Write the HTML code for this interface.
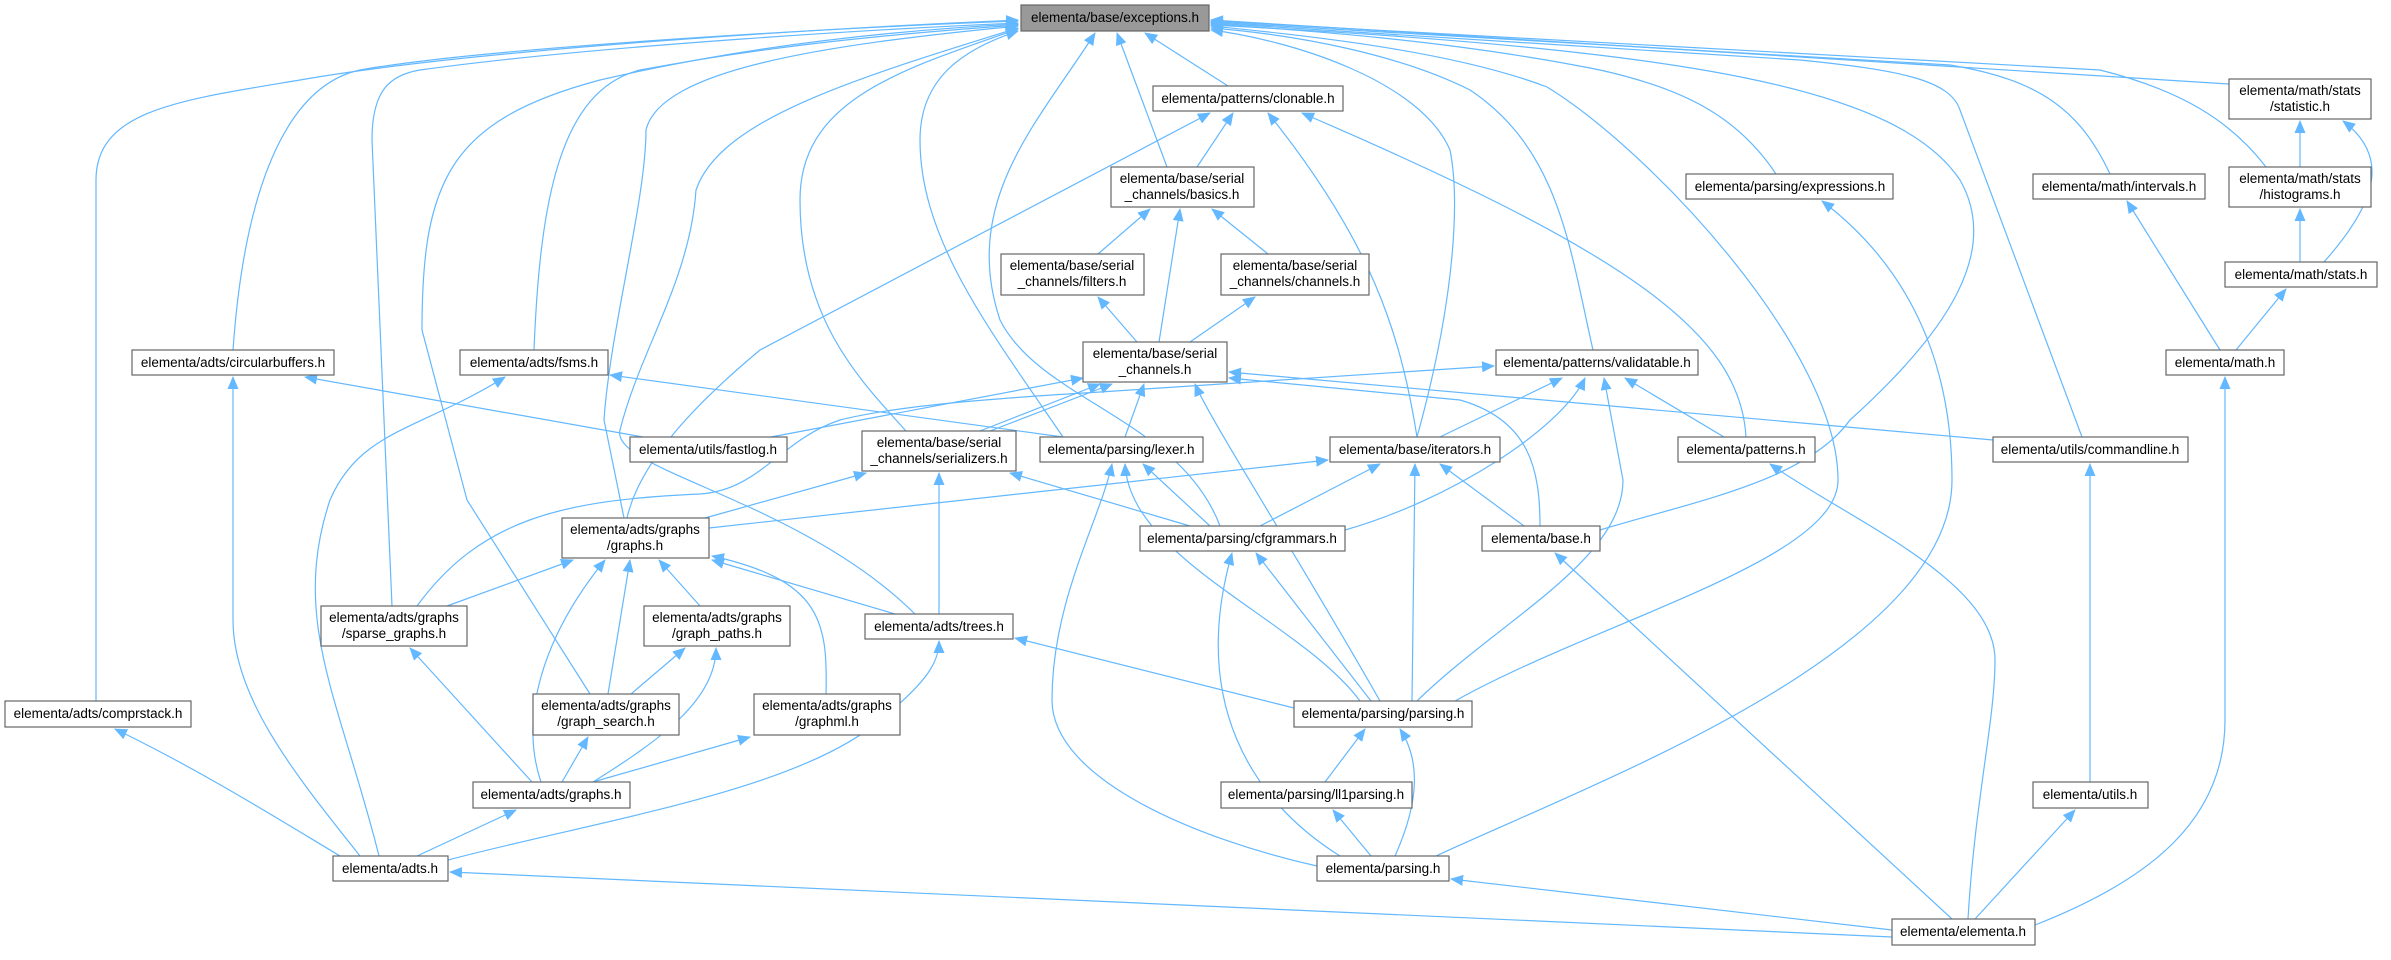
<!DOCTYPE html>
<html><head><meta charset="utf-8"><style>
html,body{margin:0;padding:0;background:#fff}
svg{display:block}
text{font-family:"Liberation Sans",Arial,sans-serif;font-size:13.5px;fill:#000}
.e{fill:none;stroke:#63b8ff;stroke-width:1.2;marker-end:url(#ah)}
.n{fill:#fff;stroke:#666;stroke-width:1.2}
</style></head><body>
<svg width="2391" height="960" viewBox="0 0 2391 960" xmlns="http://www.w3.org/2000/svg">
<defs><marker id="ah" markerUnits="userSpaceOnUse" markerWidth="13" markerHeight="11" refX="12" refY="5.5" orient="auto"><path d="M0,0 L13,5.5 L0,11 z" fill="#63b8ff"/></marker></defs>
<g>
<path class="e" d="M96,701 L96,180 C96,110 180,100 300,80 C500,45 900,25 1018,20"/>
<path class="e" d="M233,350 C245,180 290,85 360,70 C500,45 900,25 1018,21"/>
<path class="e" d="M392,606 L372,140 C372,90 390,75 420,70 C600,45 900,28 1018,23"/>
<path class="e" d="M590,694 L467,500 L422,330 C422,180 450,120 600,80 C750,45 900,30 1018,24"/>
<path class="e" d="M534,350 C540,200 560,90 640,70 C800,40 950,30 1018,25"/>
<path class="e" d="M624,518 L604,420 C610,330 646,200 646,130 C660,70 820,45 1018,26"/>
<path class="e" d="M915,614 C800,500 610,470 620,430 C640,350 690,280 696,190 C720,120 850,80 1018,28"/>
<path class="e" d="M906,431 C860,380 800,320 800,200 C800,100 900,70 1018,29"/>
<path class="e" d="M1063,437 C990,330 920,240 920,140 C920,80 960,50 1018,31"/>
<path class="e" d="M1220,526 C1180,420 1040,400 1000,320 C960,200 1040,120 1095,33"/>
<path class="e" d="M1167,167 L1117,33"/>
<path class="e" d="M1228,86 L1145,33"/>
<path class="e" d="M1417,437 C1455,300 1460,200 1450,150 C1420,80 1290,40 1211,30"/>
<path class="e" d="M1593,350 C1570,250 1560,150 1470,90 C1400,55 1300,35 1211,28"/>
<path class="e" d="M1455,701 C1600,620 1838,560 1838,480 C1838,350 1650,150 1547,87 C1450,50 1300,35 1211,26"/>
<path class="e" d="M1600,530 C1700,500 1807,480 1850,420 C1950,330 2000,250 1960,180 C1900,90 1700,50 1211,25"/>
<path class="e" d="M1776,174 C1740,120 1690,90 1600,70 C1450,40 1300,30 1211,24"/>
<path class="e" d="M2082,437 L1960,110 C1950,80 1900,70 1800,60 L1211,23"/>
<path class="e" d="M2110,174 C2080,110 2040,80 1950,65 L1211,22"/>
<path class="e" d="M2266,167 C2230,120 2180,90 2100,70 L1211,21"/>
<path class="e" d="M2229,84 L1211,20"/>
<path class="e" d="M1197,167 L1233,113"/>
<path class="e" d="M1417,437 C1400,330 1370,240 1268,113"/>
<path class="e" d="M1746,437 C1740,330 1620,250 1302,113"/>
<path class="e" d="M627,518 C640,460 700,400 760,350 L1210,113"/>
<path class="e" d="M1098,254 L1150,209"/>
<path class="e" d="M1159,342 L1180,209"/>
<path class="e" d="M1268,254 L1212,209"/>
<path class="e" d="M1137,342 L1098,297"/>
<path class="e" d="M1190,342 L1255,297"/>
<path class="e" d="M771,437 L1083,378"/>
<path class="e" d="M980,431 L1100,384"/>
<path class="e" d="M990,431 L1112,384"/>
<path class="e" d="M1125,437 L1144,384"/>
<path class="e" d="M1380,701 C1300,560 1210,420 1195,384"/>
<path class="e" d="M1540,526 C1540,470 1530,420 1460,400 L1229,378"/>
<path class="e" d="M1993,440 L1229,372"/>
<path class="e" d="M643,437 L305,377"/>
<path class="e" d="M1063,437 L610,375"/>
<path class="e" d="M379,856 C340,700 290,620 330,500 C360,430 420,430 505,377"/>
<path class="e" d="M360,856 C300,780 233,700 233,620 L233,377"/>
<path class="e" d="M705,518 L866,473"/>
<path class="e" d="M939,614 L939,473"/>
<path class="e" d="M1190,526 L1010,473"/>
<path class="e" d="M1210,526 L1143,464"/>
<path class="e" d="M1360,701 C1300,620 1130,560 1125,464"/>
<path class="e" d="M1317,866 C1200,840 1052,780 1052,700 C1052,600 1100,520 1112,464"/>
<path class="e" d="M417,606 C480,520 560,500 700,494 C760,490 780,440 840,420 C900,405 1000,398 1100,392 L1494,366"/>
<path class="e" d="M1440,437 L1562,378"/>
<path class="e" d="M1345,530 C1450,500 1560,430 1585,378"/>
<path class="e" d="M1417,701 C1500,620 1623,560 1623,480 L1604,378"/>
<path class="e" d="M1724,437 L1625,378"/>
<path class="e" d="M709,528 L1328,460"/>
<path class="e" d="M1260,526 L1380,464"/>
<path class="e" d="M1412,701 L1415,464"/>
<path class="e" d="M1524,526 L1440,464"/>
<path class="e" d="M447,606 L573,560"/>
<path class="e" d="M608,694 L630,560"/>
<path class="e" d="M700,606 L659,560"/>
<path class="e" d="M826,694 C828,620 820,580 712,556"/>
<path class="e" d="M895,614 L712,560"/>
<path class="e" d="M541,782 C520,720 540,640 605,560"/>
<path class="e" d="M631,694 L685,648"/>
<path class="e" d="M593,782 C660,740 716,700 716,648"/>
<path class="e" d="M532,782 L410,648"/>
<path class="e" d="M562,782 L588,737"/>
<path class="e" d="M593,782 L750,737"/>
<path class="e" d="M340,856 C280,820 200,770 115,729"/>
<path class="e" d="M417,856 L516,810"/>
<path class="e" d="M448,860 C600,820 800,790 880,720 C930,680 939,660 939,641"/>
<path class="e" d="M1294,708 L1015,638"/>
<path class="e" d="M1371,701 L1256,553"/>
<path class="e" d="M1340,856 C1250,800 1190,700 1232,553"/>
<path class="e" d="M1325,782 L1365,729"/>
<path class="e" d="M1395,856 C1420,800 1420,760 1400,729"/>
<path class="e" d="M1371,856 L1333,810"/>
<path class="e" d="M1436,856 C1600,780 1952,650 1952,480 C1952,350 1900,260 1822,201"/>
<path class="e" d="M1892,937 L450,872"/>
<path class="e" d="M1892,930 L1451,879"/>
<path class="e" d="M1952,919 L1555,553"/>
<path class="e" d="M1968,919 C1975,800 1995,720 1995,660 C1995,580 1850,520 1770,464"/>
<path class="e" d="M1975,919 L2075,810"/>
<path class="e" d="M2035,925 C2150,880 2225,820 2225,720 L2225,377"/>
<path class="e" d="M2090,782 L2090,464"/>
<path class="e" d="M2220,350 L2127,201"/>
<path class="e" d="M2236,350 L2286,289"/>
<path class="e" d="M2300,262 L2300,209"/>
<path class="e" d="M2324,262 C2370,210 2395,160 2343,121"/>
<path class="e" d="M2300,167 L2300,121"/>
</g>
<g>
<rect x="1021" y="5" width="188" height="26" fill="#999" stroke="#666" stroke-width="1.2"/><text x="1115" y="22" text-anchor="middle">elementa/base/exceptions.h</text>
<rect class="n" x="1153" y="86" width="190" height="25"/><text x="1248" y="103" text-anchor="middle">elementa/patterns/clonable.h</text>
<rect class="n" x="1111" y="167" width="143" height="40"/><text x="1182" y="183" text-anchor="middle">elementa/base/serial</text><text x="1182" y="199" text-anchor="middle">_channels/basics.h</text>
<rect class="n" x="1001" y="254" width="143" height="41"/><text x="1072" y="270" text-anchor="middle">elementa/base/serial</text><text x="1072" y="286" text-anchor="middle">_channels/filters.h</text>
<rect class="n" x="1083" y="342" width="144" height="40"/><text x="1155" y="358" text-anchor="middle">elementa/base/serial</text><text x="1155" y="374" text-anchor="middle">_channels.h</text>
<rect class="n" x="1221" y="254" width="148" height="41"/><text x="1295" y="270" text-anchor="middle">elementa/base/serial</text><text x="1295" y="286" text-anchor="middle">_channels/channels.h</text>
<rect class="n" x="132" y="350" width="202" height="25"/><text x="233" y="367" text-anchor="middle">elementa/adts/circularbuffers.h</text>
<rect class="n" x="460" y="350" width="148" height="25"/><text x="534" y="367" text-anchor="middle">elementa/adts/fsms.h</text>
<rect class="n" x="630" y="437" width="157" height="25"/><text x="708" y="454" text-anchor="middle">elementa/utils/fastlog.h</text>
<rect class="n" x="862" y="431" width="154" height="40"/><text x="939" y="447" text-anchor="middle">elementa/base/serial</text><text x="939" y="463" text-anchor="middle">_channels/serializers.h</text>
<rect class="n" x="1040" y="437" width="163" height="25"/><text x="1121" y="454" text-anchor="middle">elementa/parsing/lexer.h</text>
<rect class="n" x="2229" y="79" width="142" height="40"/><text x="2300" y="95" text-anchor="middle">elementa/math/stats</text><text x="2300" y="111" text-anchor="middle">/statistic.h</text>
<rect class="n" x="1686" y="174" width="207" height="25"/><text x="1790" y="191" text-anchor="middle">elementa/parsing/expressions.h</text>
<rect class="n" x="2033" y="174" width="172" height="25"/><text x="2119" y="191" text-anchor="middle">elementa/math/intervals.h</text>
<rect class="n" x="2229" y="167" width="142" height="40"/><text x="2300" y="183" text-anchor="middle">elementa/math/stats</text><text x="2300" y="199" text-anchor="middle">/histograms.h</text>
<rect class="n" x="2225" y="262" width="152" height="25"/><text x="2301" y="279" text-anchor="middle">elementa/math/stats.h</text>
<rect class="n" x="1496" y="350" width="202" height="25"/><text x="1597" y="367" text-anchor="middle">elementa/patterns/validatable.h</text>
<rect class="n" x="2166" y="350" width="118" height="25"/><text x="2225" y="367" text-anchor="middle">elementa/math.h</text>
<rect class="n" x="1330" y="437" width="170" height="25"/><text x="1415" y="454" text-anchor="middle">elementa/base/iterators.h</text>
<rect class="n" x="1678" y="437" width="137" height="25"/><text x="1746" y="454" text-anchor="middle">elementa/patterns.h</text>
<rect class="n" x="1993" y="437" width="195" height="25"/><text x="2090" y="454" text-anchor="middle">elementa/utils/commandline.h</text>
<rect class="n" x="562" y="518" width="147" height="40"/><text x="635" y="534" text-anchor="middle">elementa/adts/graphs</text><text x="635" y="550" text-anchor="middle">/graphs.h</text>
<rect class="n" x="1140" y="526" width="205" height="25"/><text x="1242" y="543" text-anchor="middle">elementa/parsing/cfgrammars.h</text>
<rect class="n" x="321" y="606" width="146" height="40"/><text x="394" y="622" text-anchor="middle">elementa/adts/graphs</text><text x="394" y="638" text-anchor="middle">/sparse_graphs.h</text>
<rect class="n" x="644" y="606" width="146" height="40"/><text x="717" y="622" text-anchor="middle">elementa/adts/graphs</text><text x="717" y="638" text-anchor="middle">/graph_paths.h</text>
<rect class="n" x="865" y="614" width="148" height="25"/><text x="939" y="631" text-anchor="middle">elementa/adts/trees.h</text>
<rect class="n" x="5" y="701" width="186" height="26"/><text x="98" y="718" text-anchor="middle">elementa/adts/comprstack.h</text>
<rect class="n" x="533" y="694" width="146" height="41"/><text x="606" y="710" text-anchor="middle">elementa/adts/graphs</text><text x="606" y="726" text-anchor="middle">/graph_search.h</text>
<rect class="n" x="754" y="694" width="146" height="41"/><text x="827" y="710" text-anchor="middle">elementa/adts/graphs</text><text x="827" y="726" text-anchor="middle">/graphml.h</text>
<rect class="n" x="473" y="782" width="157" height="26"/><text x="551" y="799" text-anchor="middle">elementa/adts/graphs.h</text>
<rect class="n" x="333" y="856" width="115" height="25"/><text x="390" y="873" text-anchor="middle">elementa/adts.h</text>
<rect class="n" x="1482" y="526" width="118" height="25"/><text x="1541" y="543" text-anchor="middle">elementa/base.h</text>
<rect class="n" x="1294" y="701" width="178" height="26"/><text x="1383" y="718" text-anchor="middle">elementa/parsing/parsing.h</text>
<rect class="n" x="1221" y="782" width="191" height="26"/><text x="1316" y="799" text-anchor="middle">elementa/parsing/ll1parsing.h</text>
<rect class="n" x="2033" y="782" width="115" height="26"/><text x="2090" y="799" text-anchor="middle">elementa/utils.h</text>
<rect class="n" x="1317" y="856" width="132" height="25"/><text x="1383" y="873" text-anchor="middle">elementa/parsing.h</text>
<rect class="n" x="1892" y="919" width="143" height="26"/><text x="1963" y="936" text-anchor="middle">elementa/elementa.h</text>
</g>
</svg>
</body></html>
